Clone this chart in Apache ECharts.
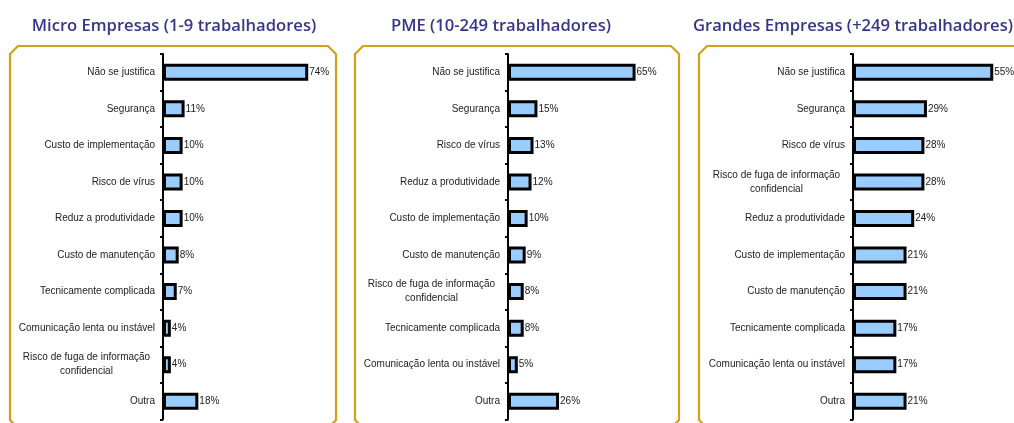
<!DOCTYPE html>
<html><head><meta charset="utf-8">
<script src="https://cdn.jsdelivr.net/npm/echarts@6/dist/echarts.min.js"></script>
<style>html,body{margin:0;padding:0;background:#fff}#c{width:1014px;height:423px}</style>
</head><body><div id="c"></div>
<script>
const titles = ['Micro Empresas (1-9 trabalhadores)', 'PME (10-249 trabalhadores)', 'Grandes Empresas (+249 trabalhadores)'];
const catsMicro = ['Não se justifica','Segurança','Custo de implementação','Risco de vírus','Reduz a produtividade','Custo de manutenção','Tecnicamente complicada','Comunicação lenta ou instável','Risco de fuga de informação\nconfidencial','Outra'];
const valsMicro = [74,11,10,10,10,8,7,4,4,18];
const catsPME = ['Não se justifica','Segurança','Risco de vírus','Reduz a produtividade','Custo de implementação','Custo de manutenção','Risco de fuga de informação\nconfidencial','Tecnicamente complicada','Comunicação lenta ou instável','Outra'];
const valsPME = [65,15,13,12,10,9,8,8,5,26];
const catsGrandes = ['Não se justifica','Segurança','Risco de vírus','Risco de fuga de informação\nconfidencial','Reduz a produtividade','Custo de implementação','Custo de manutenção','Tecnicamente complicada','Comunicação lenta ou instável','Outra'];
const valsGrandes = [55,29,28,28,24,21,21,17,17,21];

const FONT = "'Liberation Sans', Arial, sans-serif";
const ctx = document.createElement('canvas').getContext('2d');
ctx.font = "10px 'Liberation Sans'";
function labelFmt(v){
  if (v.indexOf('\n') < 0) return v;
  return v.split('\n').map(l => '{m|' + l + '}').join('\n');
}
function richWidth(cats){
  let w = 0;
  cats.forEach(c => c.split('\n').forEach(l => { w = Math.max(w, ctx.measureText(l).width); }));
  return Math.ceil(w);
}

const panels = [
  {cats: catsMicro, vals: valsMicro, left: 163, width: 157, max: 80, tx: 174},
  {cats: catsPME, vals: valsPME, left: 508, width: 157, max: 80, tx: 501},
  {cats: catsGrandes, vals: valsGrandes, left: 853, width: 153, max: 60, tx: 853}
];

const grid = [], xAxis = [], yAxis = [], series = [], graphic = [];
panels.forEach((p, i) => {
  grid.push({left: p.left, top: 54, width: p.width, height: 365.5, containLabel: false});
  xAxis.push({gridIndex: i, type: 'value', min: 0, max: p.max, show: false});
  yAxis.push({
    gridIndex: i, type: 'category', data: p.cats, inverse: true,
    axisLine: {show: true, lineStyle: {color: '#000', width: 2}},
    axisTick: {show: true, length: 3, lineStyle: {color: '#000', width: 2}},
    axisLabel: {
      interval: 0, margin: 8, color: '#222', fontSize: 10, fontFamily: FONT, lineHeight: 14,
      formatter: labelFmt,
      rich: {m: {width: richWidth(p.cats), align: 'center', fontSize: 10, fontFamily: FONT, color: '#222', lineHeight: 14}}
    },
    splitLine: {show: false}
  });
  series.push({
    type: 'bar', xAxisIndex: i, yAxisIndex: i, data: p.vals, barWidth: 17,
    itemStyle: {color: '#99CCFF', borderColor: '#000', borderWidth: 3},
    label: {show: true, position: 'right', distance: 1, formatter: '{c}%', color: '#222', fontSize: 10, fontFamily: FONT},
    animation: false
  });
  graphic.push({
    type: 'text',
    style: {text: titles[i], x: p.tx, y: 26, textAlign: 'center', textVerticalAlign: 'middle',
      fill: '#36368A', font: "600 16.6px 'Open Sans', sans-serif"}
  });
});

function frame(x1, x2){
  return {type: 'polygon', shape: {points: [[x1+8,428],[x1,420],[x1,54],[x1+8,46],[x2-8,46],[x2,54],[x2,420],[x2-8,428]]},
    style: {fill: 'none', stroke: '#D4A017', lineWidth: 2.2}, z: -1};
}
graphic.push(frame(10, 336), frame(355, 679), frame(699, 1040));

const chart = echarts.init(document.getElementById('c'), null, {renderer: 'canvas'});
chart.setOption({animation: false, grid, xAxis, yAxis, series, graphic});
</script></body></html>
